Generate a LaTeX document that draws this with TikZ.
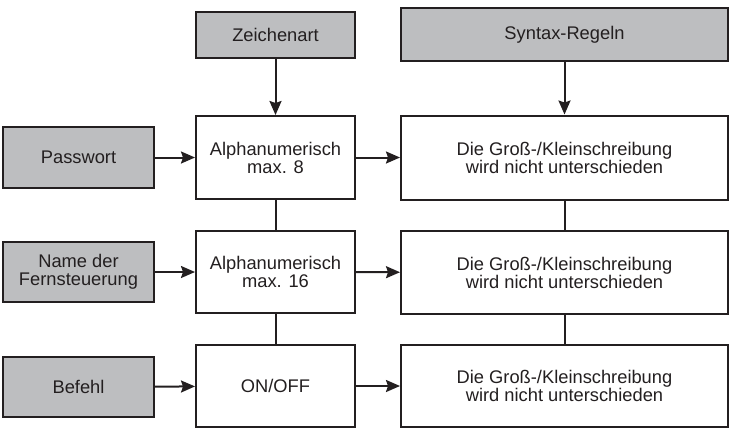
\documentclass[tikz,border=0pt]{standalone}
\usepackage{fontspec}
\setmainfont{Liberation Sans}
\usetikzlibrary{arrows.meta}
\definecolor{ink}{HTML}{231F20}
\definecolor{boxgray}{HTML}{BDBEC0}
\begin{document}
\begin{tikzpicture}[x=1bp,y=-1bp,
  base/.style={draw=ink, line width=2bp, rectangle, inner sep=0pt, align=center,
    text=ink, font=\fontsize{18.3bp}{18bp}\selectfont},
  graybox/.style={base, fill=boxgray},
  whitebox/.style={base, fill=white},
  conn/.style={draw=ink, line width=2bp},
  arr/.style={conn, -{Stealth[length=14bp,width=12bp,inset=2bp]}}
]
\useasboundingbox (0,0) rectangle (729,428);
% top headers
\node[graybox, minimum width=159bp, minimum height=46bp] (zeichen) at (275.5,35) {Zeichenart};
\node[graybox, minimum width=327bp, minimum height=53bp] (syntax) at (564.5,34.5) {Syntax-Regeln};
% left inputs
\node[graybox, minimum width=151bp, minimum height=61bp] (pass) at (78.5,157.5) {Passwort};
\node[graybox, minimum width=151bp, minimum height=60bp] (name) at (78.5,272) {Name der\\Fernsteuerung};
\node[graybox, minimum width=151bp, minimum height=60bp] (befehl) at (78.5,387) {Befehl};
% middle column
\node[whitebox, minimum width=159bp, minimum height=83bp] (m1) at (275.5,157.5) {Alphanumerisch\\max. 8};
\node[whitebox, minimum width=159bp, minimum height=82bp] (m2) at (275.5,272) {Alphanumerisch\\max. 16};
\node[whitebox, minimum width=159bp, minimum height=82bp] (m3) at (275.5,386) {ON/OFF};
% right column
\node[whitebox, minimum width=327bp, minimum height=84bp] (r1) at (564.5,157.5) {Die Groß-/Kleinschreibung\\wird nicht unterschieden};
\node[whitebox, minimum width=327bp, minimum height=83bp] (r2) at (564.5,272.5) {Die Groß-/Kleinschreibung\\wird nicht unterschieden};
\node[whitebox, minimum width=327bp, minimum height=82bp] (r3) at (564.5,386) {Die Groß-/Kleinschreibung\\wird nicht unterschieden};
% connectors
\draw[arr] (zeichen) -- (m1);
\draw[arr] (syntax) -- (r1);
\draw[conn] (m1) -- (m2);
\draw[conn] (m2) -- (m3);
\draw[conn] (r1) -- (r2);
\draw[conn] (r2) -- (r3);
\draw[arr] (pass) -- (m1);
\draw[arr] (name) -- (m2);
\draw[arr] (befehl) -- (m3);
\draw[arr] (m1) -- (r1);
\draw[arr] (m2) -- (r2);
\draw[arr] (m3) -- (r3);
\end{tikzpicture}
\end{document}
